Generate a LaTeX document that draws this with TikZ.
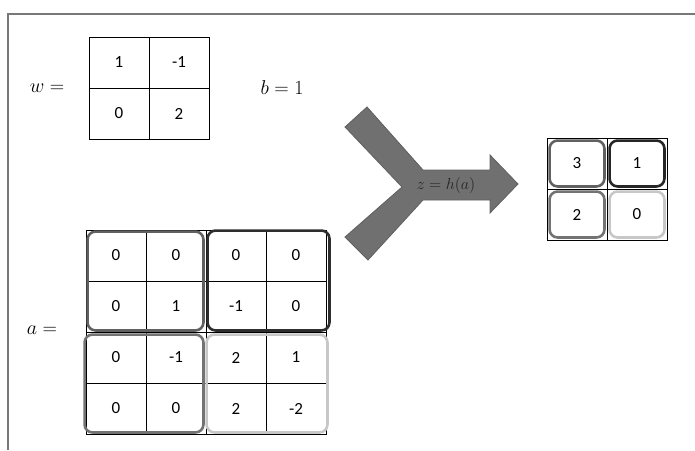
\RequirePackage{fix-cm}
\documentclass[tikz,border=0pt]{standalone}
\usepackage{amsmath}
\usepackage{fontspec}
\usetikzlibrary{positioning}
\newfontfamily\cellfont{Carlito}
\definecolor{FrameGray}{RGB}{120,120,120}
\definecolor{ArrowGray}{RGB}{112,112,112}

\begin{document}
\begin{tikzpicture}[x=1pt, y=-1pt, >=stealth,
    cell/.style={draw, line width=0.9pt, minimum width=60pt, minimum height=51pt,
      inner sep=0pt, font=\cellfont\fontsize{17}{19}\selectfont},
    lab/.style={font=\fontsize{20}{22}\selectfont},
    blockbox/.style={line width=2.6pt, rounded corners=8pt}]
  \useasboundingbox (0,0) rectangle (695,450);
  % frame
  \draw[FrameGray, line width=1.4pt] (8,450) -- (8,14) -- (695,14);

  % kernel and bias
  \node[lab] (wlab) at (47,88) {$w =$};
  \foreach \r/\c/\val in {1/1/1, 1/2/-1, 2/1/0, 2/2/2}
    \node[cell] (w-\r-\c) at ({59+60*\c}, {11.5+51*\r}) {\val};
  \node[lab] (blab) at (282,88) {$b = 1$};

  % input
  \node[lab] (alab) at (42,330) {$a =$};
  \foreach \r/\c/\val in {1/1/0, 1/2/0, 1/3/0, 1/4/0,
                          2/1/0, 2/2/1, 2/3/-1, 2/4/0,
                          3/1/0, 3/2/-1, 3/3/2, 3/4/1,
                          4/1/0, 4/2/0, 4/3/2, 4/4/-2}
    \node[cell] (a-\r-\c) at ({56+60*\c}, {204.5+51*\r}) {\val};
  \draw[blockbox, black!62] ([shift={(2,2)}]a-1-1.north west) rectangle ([shift={(-3,-2)}]a-2-2.south east);
  \draw[blockbox, black!82] ([shift={(2,1)}]a-1-3.north west) rectangle ([shift={(3,-2)}]a-2-4.south east);
  \draw[blockbox, black!55] ([shift={(-1,3)}]a-3-1.north west) rectangle ([shift={(-3,-2)}]a-4-2.south east);
  \draw[blockbox, black!22] ([shift={(1,3)}]a-3-3.north west) rectangle ([shift={(1,-2)}]a-4-4.south east);

  % arrow
  \draw[ArrowGray!85!black, fill=ArrowGray, line width=0.8pt]
    (367,107) -- (423,170) -- (490,170) -- (490,155) -- (518,184) -- (490,213)
    -- (490,200) -- (423,200) -- (368,260) -- (345,237) -- (402,187)
    -- (345,127) -- cycle;
  \node[text=black!85, font=\fontsize{16}{18}\selectfont] (zlab) at (446,185) {$z = h(a)$};

  % output
  \foreach \r/\c/\val in {1/1/3, 1/2/1, 2/1/2, 2/2/0}
    \node[cell] (z-\r-\c) at ({517+60*\c}, {112.5+51*\r}) {\val};
  \draw[blockbox, black!62] ([shift={(3,3)}]z-1-1.north west) rectangle ([shift={(-3,-3)}]z-1-1.south east);
  \draw[blockbox, black!85] ([shift={(3,3)}]z-1-2.north west) rectangle ([shift={(-3,-3)}]z-1-2.south east);
  \draw[blockbox, black!55] ([shift={(3,3)}]z-2-1.north west) rectangle ([shift={(-3,-3)}]z-2-1.south east);
  \draw[blockbox, black!22] ([shift={(3,3)}]z-2-2.north west) rectangle ([shift={(-3,-3)}]z-2-2.south east);
\end{tikzpicture}
\end{document}
